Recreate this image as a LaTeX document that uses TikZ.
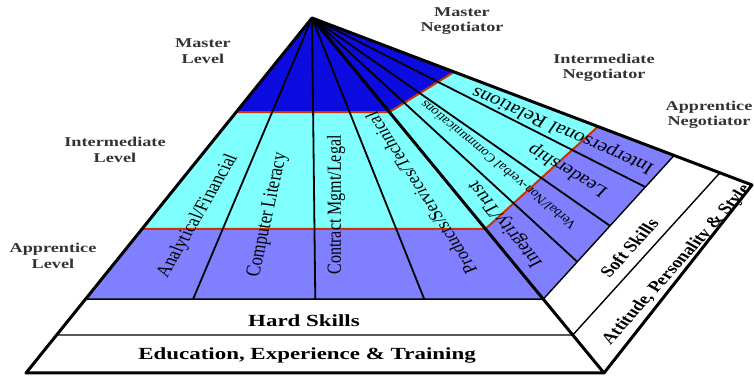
\documentclass[tikz,border=0pt]{standalone}
\usepackage{fontspec}
\setmainfont{Liberation Serif}
\newfontfamily\widefont[FakeStretch=1.35]{Liberation Serif}
\usepackage{tikz}
\definecolor{masterblue}{RGB}{12,12,225}
\definecolor{interblue}{RGB}{128,255,255}
\definecolor{apprblue}{RGB}{128,128,255}
\definecolor{levelred}{RGB}{204,51,0}
\usetikzlibrary{calc}
\tikzset{
  outline/.style={line width=3pt, line join=round},
  divider/.style={line width=1.8pt},
  bandline/.style={line width=1.4pt},
  redline/.style={levelred, line width=2pt, line join=round},
  lvlname/.style={font=\widefont\bfseries\fontsize{13.5}{15.5}\selectfont, align=center, inner sep=0pt, text=black!80},
  skill/.style={font=\fontsize{16}{18}\selectfont, inner sep=0pt, xscale=1.25},
  band/.style={font=\widefont\bfseries\fontsize{17}{19}\selectfont, inner sep=0pt}
}

\begin{document}
\begin{tikzpicture}[x=1pt, y=1pt]
	\useasboundingbox[fill=white] (0,0) rectangle (754,377);
	
	\coordinate (apex) at (312,359);
	\coordinate (bl) at (26,4);
	\coordinate (fr) at (604,4);
	\coordinate (rc) at (752,192);
	% level lines on left edge, front edge and top edge
	\foreach \n/\t/\s in {1/0.265/0.323, 2/0.594/0.65, 3/0.792/0.823, 4/0.893/0.927}{
		\coordinate (l\n) at ($(apex)!\t!(bl)$);
		\coordinate (f\n) at ($(apex)!\t!(fr)$);
		\coordinate (t\n) at ($(apex)!\s!(rc)$);
	}
	% column ends
	\foreach \n/\s/\r in {1/0.235/0.26, 2/0.502/0.51, 3/0.74/0.78}{
		\coordinate (c\n) at ($(l3)!\s!(f3)$);
		\coordinate (d\n) at ($(f3)!\r!(t3)$);
	}
	
	\fill[masterblue] (apex) -- (l1) -- (f1) -- (t1) -- cycle;
	\fill[interblue] (l1) -- (l2) -- (f2) -- (t2) -- (t1) -- (f1) -- cycle;
	\fill[apprblue] (l2) -- (l3) -- (f3) -- (t3) -- (t2) -- (f2) -- cycle;
	
	\draw[bandline] (l3) -- (f3) -- (t3) (l4) -- (f4) -- (t4);
	\draw[redline] (l1) -- (f1) -- (t1) (l2) -- (f2) -- (t2);
	\foreach \n in {1,2,3}
		\draw[divider] (apex) -- (c\n) (apex) -- (d\n);
	\draw[outline] (apex) -- (bl) -- (fr) -- (rc) -- cycle (apex) -- (fr);
	
	\node[skill, font=\fontsize{16.4}{18}\selectfont, rotate=65] (anal) at (198,161) {Analytical/Financial};
	\node[skill, font=\fontsize{16.6}{18}\selectfont, rotate=80] (comp) at (268,162) {Computer Literacy};
	\node[skill, rotate=90] (contract) at (336,172) {Contract Mgmt/Legal};
	\node[skill, font=\fontsize{15.8}{18}\selectfont, rotate=117] (prod) at (421,184) {Products/Services/Technical};
	\node[skill, font=\fontsize{17}{19}\selectfont, rotate=122.6] (trust) at (506,153) {Integrity/Trust};
	\node[skill, font=\fontsize{12}{14}\selectfont, rotate=134.2] (verbal) at (498,212) {Verbal/Non-verbal Communications};
	\node[skill, font=\fontsize{17}{19}\selectfont, rotate=143.3] (lead) at (568,207) {Leadership};
	\node[skill, font=\fontsize{17.6}{19}\selectfont, rotate=151.2] (inter) at (563,247) {Interpersonal Relations};
	
	\node[skill, font=\bfseries\fontsize{15.8}{17}\selectfont, rotate=54] (soft) at (629,129) {Soft Skills};
	\node[skill, font=\bfseries\fontsize{15.6}{17}\selectfont, rotate=54.3] (attitude) at (677,112) {Attitude, Personality \& Style};
	\node[band] (hard) at (304,56) {Hard Skills};
	\node[band] (edu) at (307,22) {Education, Experience \& Training};
	
	\node[lvlname] (mlevel) at (203,326) {Master\\Level};
	\node[lvlname] (ilevel) at (115,227) {Intermediate\\Level};
	\node[lvlname] (alevel) at (53,121) {Apprentice\\Level};
	\node[lvlname] (mneg) at (462,356) {Master\\Negotiator};
	\node[lvlname] (ineg) at (604,309) {Intermediate\\Negotiator};
	\node[lvlname] (aneg) at (709,262) {Apprentice\\Negotiator};
\end{tikzpicture}
\end{document}
